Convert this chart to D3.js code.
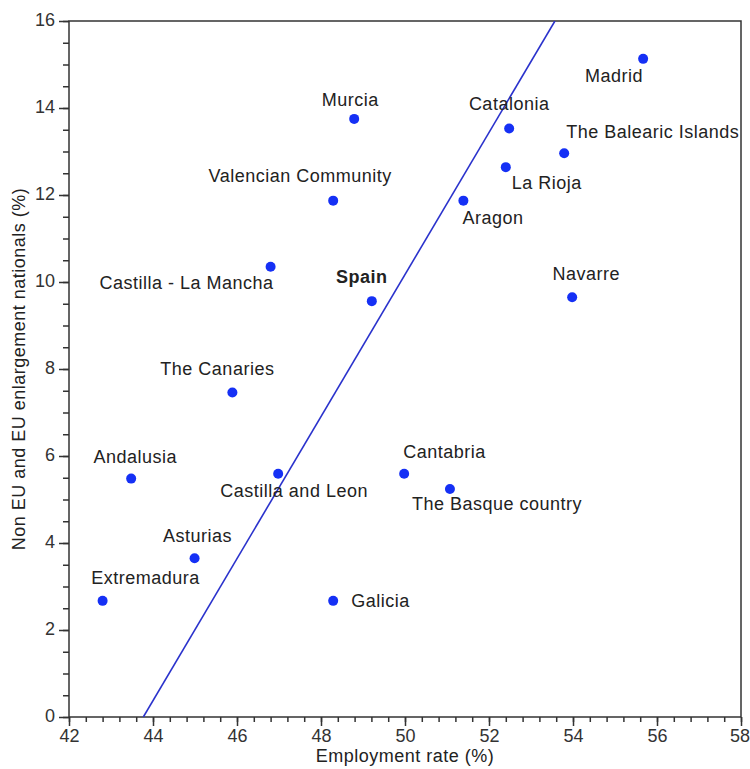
<!DOCTYPE html>
<html>
<head>
<meta charset="utf-8">
<script src="https://cdn.jsdelivr.net/npm/d3@7"></script>
<style>
  html, body { margin: 0; padding: 0; background: #fff; }
  svg { display: block; font-family: "Liberation Sans", Arial, Helvetica, sans-serif; }
  .lbl { font-size: 18px; letter-spacing: 0.5px; fill: #222; }
  .axis text { font-size: 18px; fill: #333; }
  .axis line { stroke: #333; stroke-width: 1.5; }
</style>
</head>
<body>
<div id="chart"></div>
<script>
// Data
const regions = [
  "Madrid", "Murcia", "Catalonia", "The Balearic Islands", "La Rioja",
  "Valencian Community", "Aragon", "Castilla - La Mancha", "Spain", "Navarre",
  "The Canaries", "Andalusia", "Castilla and Leon", "Cantabria",
  "The Basque country", "Asturias", "Extremadura", "Galicia"
];
const employment = [
  55.67, 48.79, 52.48, 53.79, 52.40,
  48.29, 51.39, 46.80, 49.21, 53.98,
  45.89, 43.48, 46.98, 49.98,
  51.07, 44.99, 42.80, 48.29
];
const nonEU = [
  15.13, 13.75, 13.53, 12.96, 12.64,
  11.87, 11.87, 10.35, 9.56, 9.65,
  7.46, 5.48, 5.59, 5.59,
  5.24, 3.65, 2.67, 2.67
];
// fitted line end points (employment, share)
const trendX = [43.77, 53.57];
const trendY = [0, 16];

const xTicks = [42, 44, 46, 48, 50, 52, 54, 56, 58];
const yTicks = [0, 2, 4, 6, 8, 10, 12, 14, 16];

// label placement around each dot: anchor, dx, dy (px)
const labelPlace = {
  "Madrid": ["end", 0, 23],
  "Murcia": ["middle", -4, -13],
  "Catalonia": ["middle", 0, -18],
  "The Balearic Islands": ["start", 2, -15],
  "La Rioja": ["start", 6, 22],
  "Valencian Community": ["middle", -33, -19],
  "Aragon": ["start", -1, 23],
  "Castilla - La Mancha": ["end", 3, 22],
  "Spain": ["middle", -10, -18],
  "Navarre": ["middle", 14, -17],
  "The Canaries": ["middle", -15, -17],
  "Andalusia": ["middle", 4, -16],
  "Castilla and Leon": ["middle", 16, 23],
  "Cantabria": ["start", -1, -16],
  "The Basque country": ["start", -38, 21],
  "Asturias": ["middle", 3, -16],
  "Extremadura": ["middle", 43, -17],
  "Galicia": ["start", 18, 6]
};

const W = 750, H = 769;
const plot = { left: 69, right: 741, top: 21, bottom: 717 };

const x = d3.scaleLinear().domain([42, 58]).range([plot.left, plot.right]);
const y = d3.scaleLinear().domain([0, 16]).range([plot.bottom, plot.top]);

const svg = d3.select("#chart").append("svg")
  .attr("width", W)
  .attr("height", H);

svg.append("defs").append("clipPath").attr("id", "plotclip")
  .append("rect")
  .attr("x", plot.left).attr("y", plot.top)
  .attr("width", plot.right - plot.left)
  .attr("height", plot.bottom - plot.top);

// minor ticks
svg.append("g")
  .attr("class", "axis")
  .attr("transform", `translate(0,${plot.bottom})`)
  .call(d3.axisBottom(x).tickValues(d3.range(42, 58.001, 0.4)).tickSize(5).tickFormat(""))
  .call(g => g.select(".domain").remove());

svg.append("g")
  .attr("class", "axis")
  .attr("transform", `translate(${plot.left},0)`)
  .call(d3.axisLeft(y).tickValues(d3.range(0, 16.001, 0.5)).tickSize(6).tickFormat(""))
  .call(g => g.select(".domain").remove());

// major ticks
svg.append("g")
  .attr("class", "axis")
  .attr("transform", `translate(0,${plot.bottom})`)
  .call(d3.axisBottom(x).tickValues(xTicks).tickSize(9).tickPadding(3).tickFormat(d3.format("d")))
  .call(g => g.select(".domain").remove())
  .call(g => g.selectAll("text").filter(d => d === 58).attr("dx", "-1.5"));

svg.append("g")
  .attr("class", "axis")
  .attr("transform", `translate(${plot.left},0)`)
  .call(d3.axisLeft(y).tickValues(yTicks).tickSize(10).tickPadding(4).tickFormat(d3.format("d")))
  .call(g => g.select(".domain").remove())
  .call(g => g.selectAll("text").attr("dy", "0.25em"));

// frame
svg.append("rect")
  .attr("x", plot.left).attr("y", plot.top)
  .attr("width", plot.right - plot.left)
  .attr("height", plot.bottom - plot.top)
  .attr("fill", "none")
  .attr("stroke", "#333")
  .attr("stroke-width", 1.5);

// trend line
svg.append("line")
  .attr("clip-path", "url(#plotclip)")
  .attr("x1", x(trendX[0])).attr("y1", y(trendY[0]))
  .attr("x2", x(trendX[1])).attr("y2", y(trendY[1]))
  .attr("stroke", "#2a32cc")
  .attr("stroke-width", 1.6);

const pts = regions.map((name, i) => ({ name, ex: employment[i], share: nonEU[i] }));

svg.append("g").selectAll("circle")
  .data(pts)
  .join("circle")
  .attr("cx", d => x(d.ex))
  .attr("cy", d => y(d.share))
  .attr("r", 5)
  .attr("fill", "#1530f5");

svg.append("g").selectAll("text")
  .data(pts)
  .join("text")
  .attr("class", "lbl")
  .attr("x", d => x(d.ex) + labelPlace[d.name][1])
  .attr("y", d => y(d.share) + labelPlace[d.name][2])
  .attr("text-anchor", d => labelPlace[d.name][0])
  .attr("font-weight", d => d.name === "Spain" ? "bold" : null)
  .text(d => d.name);

// axis titles
svg.append("text")
  .attr("class", "lbl")
  .attr("x", (plot.left + plot.right) / 2)
  .attr("y", 762)
  .attr("text-anchor", "middle")
  .text("Employment rate (%)");

svg.append("text")
  .attr("class", "lbl")
  .attr("transform", `translate(25,${(plot.top + plot.bottom) / 2}) rotate(-90)`)
  .attr("text-anchor", "middle")
  .text("Non EU and EU enlargement nationals (%)");
</script>
</body>
</html>
